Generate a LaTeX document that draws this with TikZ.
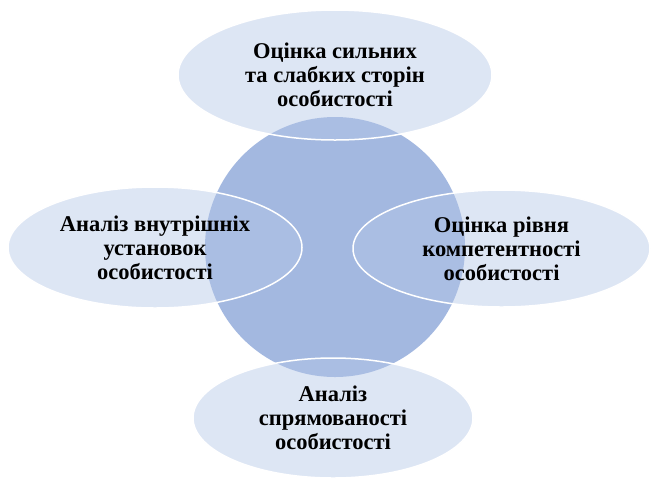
\documentclass[tikz,border=0pt]{standalone}
\usepackage{fontspec}
\setmainfont{Liberation Serif}
\usetikzlibrary{shapes.geometric}
\definecolor{hubblue}{HTML}{A3B8E0}
\definecolor{petalblue}{HTML}{B4C7E7}
\tikzset{
  hub/.style={circle, fill=hubblue, draw=none, minimum size=260pt, inner sep=0pt},
  petal/.style={ellipse, fill=petalblue, fill opacity=0.45, text opacity=1,
    draw=white, draw opacity=1, line width=1.5pt, inner sep=0pt, align=center,
    font=\bfseries\fontsize{22.5}{24}\selectfont}
}
\begin{document}
\begin{tikzpicture}[x=1pt,y=-1pt]
\useasboundingbox (0,0) rectangle (652,480);
\node[hub] (hub) at (335,247) {};
\node[petal, minimum width=314pt, minimum height=130pt] (top) at (335,75)
  {Оцінка сильних\\та слабких сторін\\особистості};
\node[petal, minimum width=294pt, minimum height=121pt] (left) at (155,247.5)
  {Аналіз внутрішніх\\установок\\особистості};
\node[petal, minimum width=297pt, minimum height=117pt] (right) at (501.5,248.5)
  {Оцінка рівня\\компетентності\\особистості};
\node[petal, minimum width=280pt, minimum height=120pt] (bottom) at (333,418)
  {Аналіз\\спрямованості\\особистості};
\end{tikzpicture}
\end{document}
